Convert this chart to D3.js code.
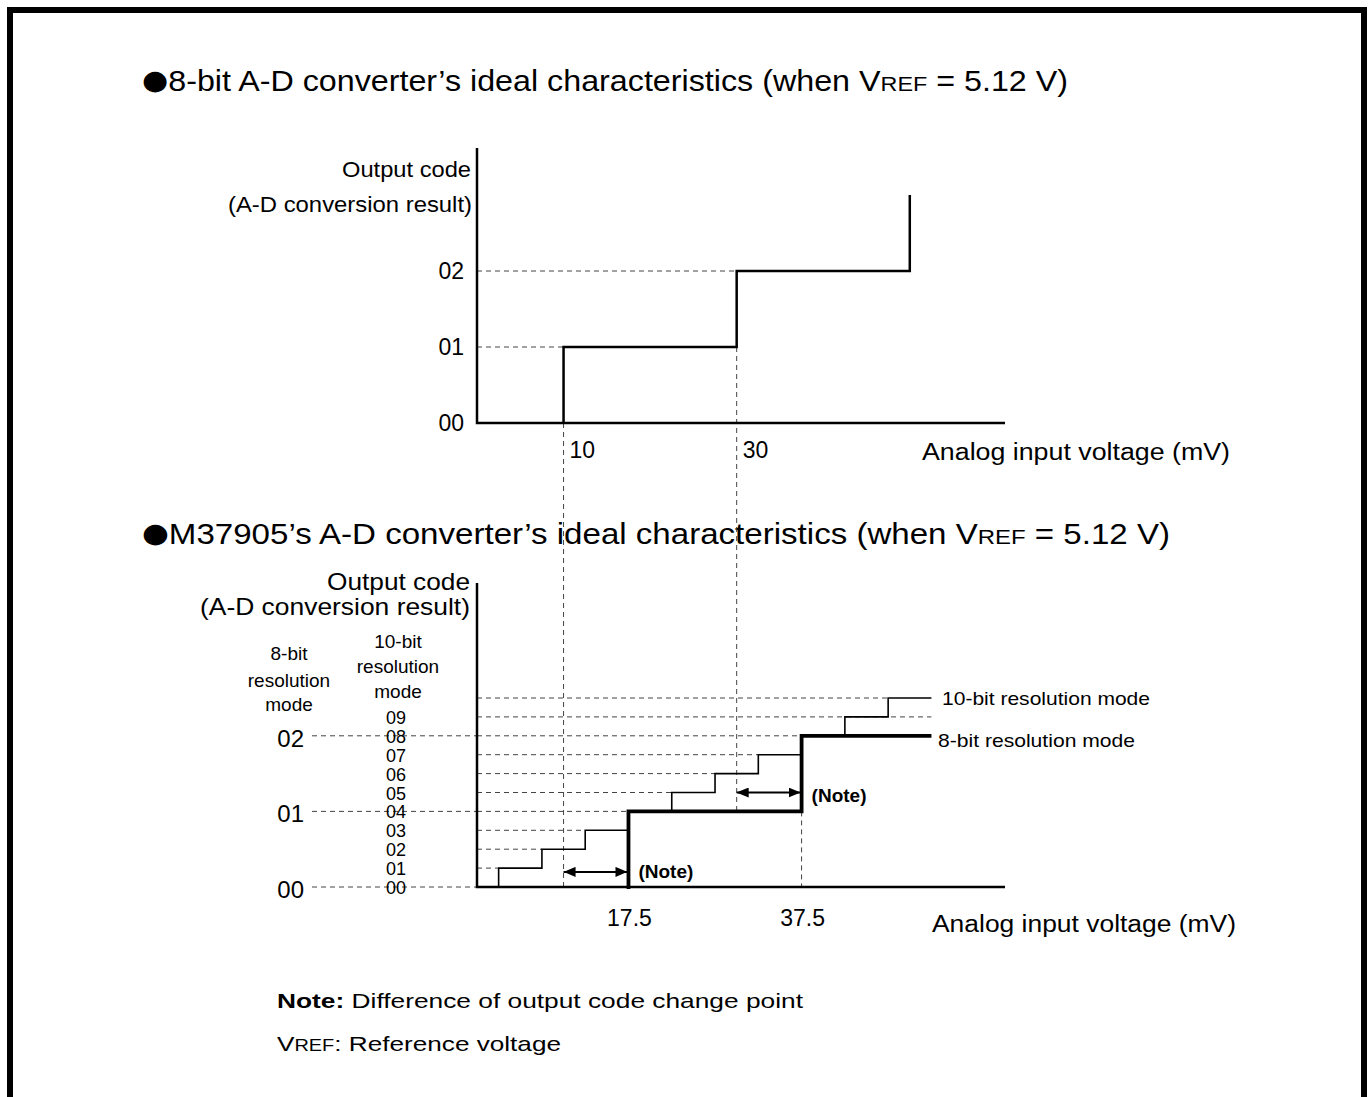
<!DOCTYPE html>
<html><head><meta charset="utf-8">
<script src="https://cdn.jsdelivr.net/npm/d3@7"></script>
<style>
html,body{margin:0;padding:0;background:#fff;}
svg text{font-family:"Liberation Sans",Arial,Helvetica,sans-serif;fill:#000;}
</style>
</head><body>
<svg id="c" width="1369" height="1097"></svg>
<script>
// ---------- data ----------
const topCodeLabels = ["00", "01", "02"];
const topTransitions = [10, 30, 50];          // mV where 8-bit code increments (ideal, top chart)
const topXTicks = [10, 30];
const bottom10Transitions = [2.5, 7.5, 12.5, 17.5, 22.5, 27.5, 32.5, 37.5, 42.5, 47.5];
const bottom8Transitions = [17.5, 37.5];
const bottomEnd = 52.5;
const codes10Labels = ["00", "01", "02", "03", "04", "05", "06", "07", "08", "09"];
const codes8Labels = ["00", "01", "02"];
const bottomXTicks = [17.5, 37.5];
const noteRanges = [[10, 17.5], [30, 37.5]];
const noteLevels10 = [0.8, 5];

// ---------- setup ----------
const svg = d3.select("#c");
const DASH = "5,4";
const dashColor = "#444";

svg.append("rect").attr("x", 10).attr("y", 10).attr("width", 1354).attr("height", 1110)
  .attr("fill", "none").attr("stroke", "#000").attr("stroke-width", 6);

function txt(x, y, s, o = {}) {
  const t = svg.append("text").attr("x", x).attr("y", y)
    .attr("font-size", o.size || 20)
    .attr("text-anchor", o.anchor || "start")
    .attr("font-weight", o.weight || "normal");
  if (o.len) t.attr("textLength", o.len).attr("lengthAdjust", "spacingAndGlyphs");
  if (Array.isArray(s)) {
    s.forEach(p => {
      const ts = t.append("tspan").text(p.t);
      if (p.size) ts.attr("font-size", p.size);
      if (p.weight) ts.attr("font-weight", p.weight);
      if (p.family) ts.attr("font-family", p.family);
      if (p.dy) ts.attr("dy", p.dy);
    });
  } else t.text(s);
  return t;
}
const line = d3.line().x(d => d[0]).y(d => d[1]);
function seg(pts, w, dashed) {
  const p = svg.append("path").attr("d", line(pts)).attr("fill", "none")
    .attr("stroke", dashed ? dashColor : "#000").attr("stroke-width", w)
    .attr("stroke-linejoin", "miter").attr("stroke-linecap", "butt");
  if (dashed) p.attr("stroke-dasharray", DASH);
  return p;
}

// ---------- scales ----------
const x = d3.scaleLinear().domain([0, 61]).range([477, 1005]);
const yTop = d3.scaleLinear().domain([0, 3]).range([423, 195]);
const yBot = d3.scaleLinear().domain([0, 10]).range([887, 698]);

// ---------- titles ----------
const bullet = {t: "\u25CF", family: "DejaVu Sans", size: 27, dy: -2};
txt(142, 91, [bullet, {t: "8-bit A-D converter\u2019s ideal characteristics (when V", dy: 2}, {t: "REF", size: 21}, {t: " = 5.12 V)"}], {size: 29, len: 926});
txt(142, 544, [bullet, {t: "M37905\u2019s A-D converter\u2019s ideal characteristics (when V", dy: 2}, {t: "REF", size: 21}, {t: " = 5.12 V)"}], {size: 29, len: 1028});

// ---------- top chart ----------
topTransitions.slice(0, 2).forEach((t, i) => {
  seg([[x(0), yTop(i + 1)], [x(t), yTop(i + 1)]], 1, true);
});
// vertical dashed guides spanning into bottom chart
seg([[x(topXTicks[0]), yTop(0)], [x(topXTicks[0]), yBot(0)]], 1, true);
seg([[x(topXTicks[1]), yTop(1)], [x(topXTicks[1]), yBot(4)]], 1, true);

// axes
seg([[x(0), 148], [x(0), yTop(0)], [x(61), yTop(0)]], 2.5, false);
// staircase
const topPts = [];
topTransitions.forEach((t, i) => {
  if (i > 0) topPts.push([x(t), yTop(i)]);
  else topPts.push([x(t), yTop(0)]);
  topPts.push([x(t), yTop(i + 1)]);
});
seg(topPts, 2.5, false);

topCodeLabels.forEach((c, i) => txt(464, yTop(i) + 8, c, {size: 23, anchor: "end"}));
txt(471, 177, "Output code", {size: 22, anchor: "end", len: 129});
txt(472, 212, "(A-D conversion result)", {size: 22, anchor: "end", len: 244});
topXTicks.forEach(v => txt(x(v) + 6, 458, String(v), {size: 23}));
txt(922, 460, "Analog input voltage (mV)", {size: 23, len: 308});

// ---------- bottom chart ----------
for (let k = 1; k <= 10; k++) {
  const xe = (k === 9) ? bottomEnd : bottom10Transitions[k - 1];
  seg([[x(0), yBot(k)], [x(xe), yBot(k)]], 1, true);
}
codes8Labels.forEach((c, i) => seg([[312, yBot(i * 4)], [x(0), yBot(i * 4)]], 1, true));
seg([[x(bottom8Transitions[1]), yBot(4)], [x(bottom8Transitions[1]), yBot(0)]], 1, true);

// axes
seg([[x(0), 583], [x(0), yBot(0)], [x(61), yBot(0)]], 2.5, false);

// 10-bit staircase
const p10 = [[x(0), yBot(0)]];
bottom10Transitions.forEach((t, i) => { p10.push([x(t), yBot(i)]); p10.push([x(t), yBot(i + 1)]); });
p10.push([x(bottomEnd), yBot(10)]);
seg(p10, 1.6, false);

// 8-bit staircase
const p8 = [[x(bottom8Transitions[0]), yBot(0) + 2]];
bottom8Transitions.forEach((t, i) => {
  if (i > 0) p8.push([x(t), yBot(i * 4)]);
  p8.push([x(t), yBot((i + 1) * 4)]);
});
p8.push([x(bottomEnd), yBot(8)]);
seg(p8, 3.8, false);

// note arrows
const defs = svg.append("defs");
defs.append("marker").attr("id", "ah").attr("viewBox", "0 0 12 10").attr("refX", 12).attr("refY", 5)
  .attr("markerWidth", 12).attr("markerHeight", 10).attr("markerUnits", "userSpaceOnUse")
  .attr("orient", "auto-start-reverse")
  .append("path").attr("d", "M0,0 L12,5 L0,10 Z").attr("fill", "#000");
noteRanges.forEach((r, i) => {
  svg.append("line").attr("x1", x(r[0])).attr("x2", x(r[1]) - 1)
    .attr("y1", yBot(noteLevels10[i])).attr("y2", yBot(noteLevels10[i]))
    .attr("stroke", "#000").attr("stroke-width", 2)
    .attr("marker-start", "url(#ah)").attr("marker-end", "url(#ah)");
  txt(x(r[1]) + 10, yBot(noteLevels10[i]) + 4 - (i === 0 ? 3 : 0) + 5, "(Note)", {size: 19, weight: "bold"});
});

// labels
codes10Labels.forEach((c, i) => txt(396, yBot(i) + 7, c, {size: 18, anchor: "middle"}));
codes8Labels.forEach((c, i) => txt(304, yBot(i * 4) + 11, c, {size: 24, anchor: "end"}));
txt(470, 590, "Output code", {size: 24, anchor: "end", len: 143});
txt(470, 615, "(A-D conversion result)", {size: 24, anchor: "end", len: 270});
[["8-bit", 660], ["resolution", 687], ["mode", 711]].forEach(d => txt(289, d[1], d[0], {size: 19, anchor: "middle"}));
[["10-bit", 648], ["resolution", 673], ["mode", 698]].forEach(d => txt(398, d[1], d[0], {size: 19, anchor: "middle"}));
txt(942, yBot(10) + 7, "10-bit resolution mode", {size: 19, len: 208});
txt(938, yBot(8) + 11, "8-bit resolution mode", {size: 19, len: 197});
bottomXTicks.forEach(v => txt(x(v) + 1, 926, String(v), {size: 23, anchor: "middle"}));
txt(932, 932, "Analog input voltage (mV)", {size: 23, len: 304});

// notes
txt(277, 1008, [{t: "Note:", weight: "bold"}, {t: " Difference of output code change point"}], {size: 21, len: 526});
txt(277, 1051, [{t: "V"}, {t: "REF", size: 16}, {t: ": Reference voltage"}], {size: 21, len: 284});
</script>
</body></html>
